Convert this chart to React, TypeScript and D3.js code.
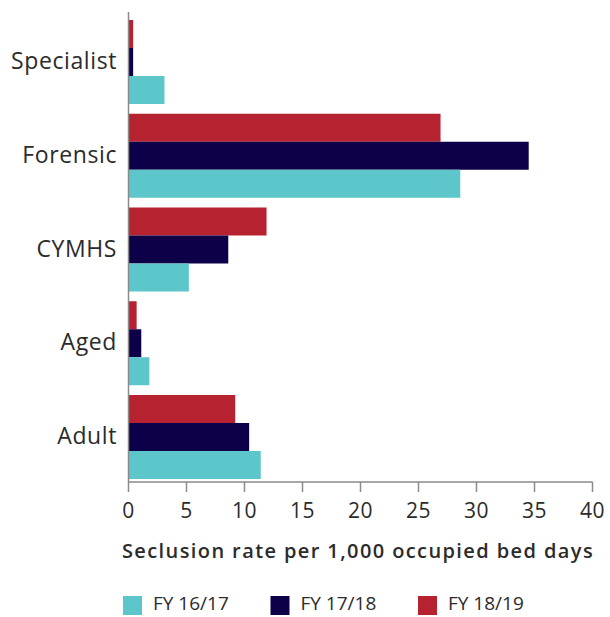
import React from "react";
import * as d3 from "d3";

const categories = ["Specialist", "Forensic", "CYMHS", "Aged", "Adult"];
const seriesNames = ["FY 18/19", "FY 17/18", "FY 16/17"];
const fy1819 = [0.4, 26.9, 11.9, 0.7, 9.2];
const fy1718 = [0.4, 34.5, 8.6, 1.1, 10.4];
const fy1617 = [3.1, 28.6, 5.2, 1.8, 11.4];
const seriesColors = ["#B6222F", "#0E0048", "#5CC6CA"];
const xTicks = [0, 5, 10, 15, 20, 25, 30, 35, 40];
const legendOrder = ["FY 16/17", "FY 17/18", "FY 18/19"];
const xTitle = "Seclusion rate per 1,000 occupied bed days";

const W = 610;
const H = 617;
const FONT = "'Open Sans', sans-serif";

export default function App() {
  const values = [fy1819, fy1718, fy1617];
  const x = d3.scaleLinear().domain([0, 40]).range([128.5, 592.5]);
  const y = d3.scaleBand<string>().domain(categories).range([20, 479]).paddingInner(0.104).paddingOuter(0);
  const inner = d3.scaleBand<string>().domain(seriesNames).range([0, y.bandwidth()]).padding(0);
  const colorOf = d3.scaleOrdinal<string, string>().domain(seriesNames).range(seriesColors);
  const axisY = 482;
  const legendX = d3.scalePoint<string>().domain(legendOrder).range([123, 418]);

  return (
    <svg width={W} height={H} style={{ position: "absolute", left: 0, top: 0 }} fontFamily={FONT}>
      {categories.map((c, ci) =>
        seriesNames.map((s, si) => (
          <rect
            key={c + s}
            x={x(0)}
            y={(y(c) as number) + (inner(s) as number)}
            width={x(values[si][ci]) - x(0)}
            height={inner.bandwidth()}
            fill={colorOf(s)}
          />
        ))
      )}
      <line x1={x(0)} x2={x(0)} y1={12} y2={axisY} stroke="#8a8a8a" strokeWidth={1.5} />
      <line x1={x(0)} x2={x(40)} y1={axisY} y2={axisY} stroke="#8a8a8a" strokeWidth={1.5} />
      {xTicks.map((t) => (
        <g key={t}>
          <line x1={x(t)} x2={x(t)} y1={axisY} y2={axisY + 10} stroke="#8a8a8a" strokeWidth={1.5} />
          <text x={x(t)} y={518} textAnchor="middle" fontSize={21} letterSpacing={0.5} fill="#2b2b2b">
            {t}
          </text>
        </g>
      ))}
      {categories.map((c) => (
        <text
          key={c}
          x={117}
          y={(y(c) as number) + y.bandwidth() / 2 - 1}
          dy="0.35em"
          textAnchor="end"
          fontSize={23}
          letterSpacing={0.6}
          fill="#2b2b2b"
        >
          {c}
        </text>
      ))}
      <text x={358} y={558} textAnchor="middle" fontSize={20} fontWeight={600} letterSpacing={1.4} fill="#2b2b2b">
        {xTitle}
      </text>
      {legendOrder.map((s) => (
        <g key={s}>
          <rect x={legendX(s)} y={596} width={19} height={19} fill={colorOf(s)} />
          <text x={(legendX(s) as number) + 30} y={610} fontSize={19} fill="#2b2b2b">
            {s}
          </text>
        </g>
      ))}
    </svg>
  );
}
